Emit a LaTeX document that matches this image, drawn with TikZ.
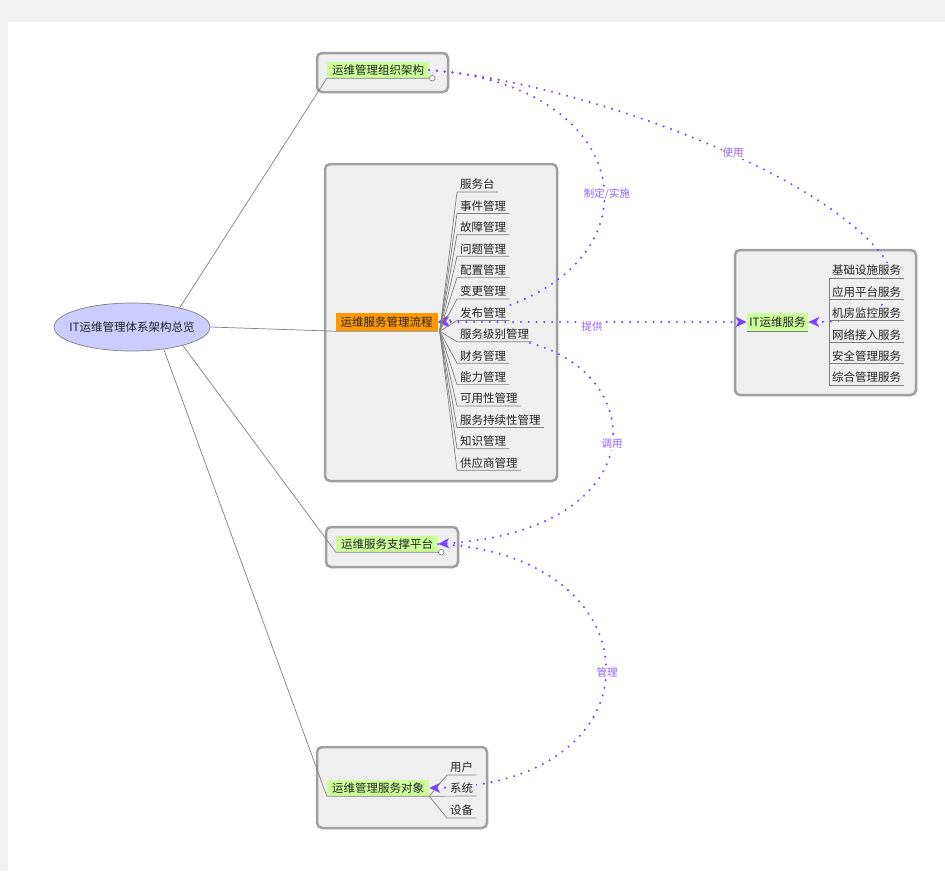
\documentclass[tikz,border=0pt]{standalone}
\usepackage{fontspec}
\setmainfont{Noto Sans CJK SC}
\usetikzlibrary{arrows.meta,shapes.geometric,calc}
\definecolor{bgout}{HTML}{F2F2F2}
\definecolor{boxfill}{HTML}{EFEFEF}
\definecolor{boxline}{HTML}{A0A0A0}
\definecolor{lblgreen}{HTML}{CCFF99}
\definecolor{lblorange}{HTML}{FF9900}
\definecolor{ellfill}{HTML}{CCCCFF}
\definecolor{relc}{HTML}{7F3FFF}
\definecolor{relt}{HTML}{9060FF}
\definecolor{conn}{HTML}{808080}
\definecolor{txt}{HTML}{222222}
\begin{document}
\begin{tikzpicture}[x=1pt,y=-1pt,
  font=\fontsize{11.5}{13}\selectfont,
  frame/.style={draw=boxline, fill=boxfill, line width=2.5pt, rounded corners=5pt, inner sep=0pt},
  topic/.style={inner xsep=5pt, inner ysep=0pt, minimum height=16pt, text=txt},
  item/.style={anchor=south west, inner xsep=3pt, inner ysep=2pt, fill=boxfill, text=txt},
  uline/.style={draw=conn, line width=0.7pt},
  rel/.style={draw=relc, line width=2.3pt, line cap=round, dash pattern=on 0pt off 7.8pt},
  tipst/.tip={Stealth[length=11pt,width=10pt,inset=3pt,fill=relc]},
  reltip/.style={-tipst},
  rellbl/.style={text=relt, fill=white, inner sep=1pt, font=\fontsize{10.5}{12}\selectfont},
]
\fill[bgout] (0,0) rectangle (945,871);
\fill[white] (8,22) rectangle (945,871);
\useasboundingbox (0,0) rectangle (945,871);

% frames
\node[frame, minimum width=131pt, minimum height=39pt] (F1) at (382.5,72.5) {};
\node[frame, minimum width=232pt, minimum height=317pt] (F2) at (441,322.5) {};
\node[frame, minimum width=132pt, minimum height=40pt] (F3) at (392,547) {};
\node[frame, minimum width=170pt, minimum height=81pt] (F4) at (402,787.5) {};
\node[frame, minimum width=181pt, minimum height=145pt] (F5) at (825.5,322.5) {};

% root
\node[ellipse, draw=conn, fill=ellfill, minimum width=156pt, minimum height=48pt,
      inner sep=0pt, line width=0.7pt] (root) at (132,327) {};
\node[text=txt, inner sep=0pt] (rootlbl) at (root.center) {IT运维管理体系架构总览};

% topics
\node[topic, fill=lblgreen] (L1) at (378,70) {运维管理组织架构};
\node[topic, fill=lblorange, minimum height=18pt] (L2) at (386.5,322) {运维服务管理流程};
\node[topic, fill=lblgreen] (L3) at (387,544) {运维服务支撑平台};
\node[topic, fill=lblgreen] (L4) at (378,788) {运维管理服务对象};
\node[topic, fill=lblgreen, minimum height=18pt, inner xsep=2.5pt] (L5) at (777.5,322) {IT运维服务};

% root connectors
\draw[uline] (root.22) -- (L1.south west) -- (L1.south east);
\draw[uline] (root.east) -- (L2.south west) -- (L2.south east);
\draw[uline] (root.-20) -- (L3.south west) -- (L3.south east);
\draw[uline] (root.-35) -- (L4.south west) -- (L4.south east);
\draw[uline] (L5.south west) -- (L5.south east);
\draw[uline, fill=white] ($(L1.south east)+(3,0)$) circle (2.8);
\draw[uline, fill=white] ($(L3.south east)+(3,0)$) circle (2.8);

% relations
\coordinate (s7e) at (530,343);
\draw[rel, reltip] (L1.east) .. controls (560,80) and (800,160) .. (878,250)
      .. controls (915,293) and (880,322) .. (L5.east);
\draw[rel, reltip] (L1.east) .. controls (650,85) and (670,290) .. (L2.east);
\draw[rel, tipst-tipst] (L5.west) -- (L2.east);
\draw[rel, reltip] (s7e) .. controls (650,375) and (655,530) .. (L3.east);
\draw[rel, reltip] (L3.east) .. controls (660,555) and (665,785) .. (L4.east);

\node[rellbl] (t1) at (733,153) {使用};
\node[rellbl] (t2) at (607,194) {制定/实施};
\node[rellbl] (t3) at (592,327) {提供};
\node[rellbl] (t4) at (612,444) {调用};
\node[rellbl] (t5) at (607,672) {管理};

% process items
\coordinate (f2) at ($(L2.south east)+(2,0)$);
\foreach \t [count=\i from 0] in {服务台,事件管理,故障管理,问题管理,配置管理,变更管理,发布管理,服务级别管理,财务管理,能力管理,可用性管理,服务持续性管理,知识管理,供应商管理} {
  \node[item] (s\i) at (457,{192+21.4*\i}) {\t};
  \draw[uline] (f2) -- (s\i.south west) -- (s\i.south east);
}

% service objects
\coordinate (f4) at (L4.south east);
\node[item] (u1) at (447,775) {用户};
\node[item] (u2) at (447,796) {系统};
\node[item] (u3) at (447,818) {设备};
\draw[uline] (f4) -- (u1.south west) -- (u1.south east);
\draw[uline] (f4) -- (u2.south east);
\draw[uline] (f4) -- (u3.south west) -- (u3.south east);

% IT services
\foreach \t [count=\i from 0] in {基础设施服务,应用平台服务,机房监控服务,网络接入服务,安全管理服务,综合管理服务} {
  \node[item] (b\i) at (829,{278+21.4*\i}) {\t};
  \draw[uline] (b\i.south west) -- (b\i.south east);
}
\draw[uline] (b0.south west) -- (b5.south west);
\end{tikzpicture}
\end{document}
